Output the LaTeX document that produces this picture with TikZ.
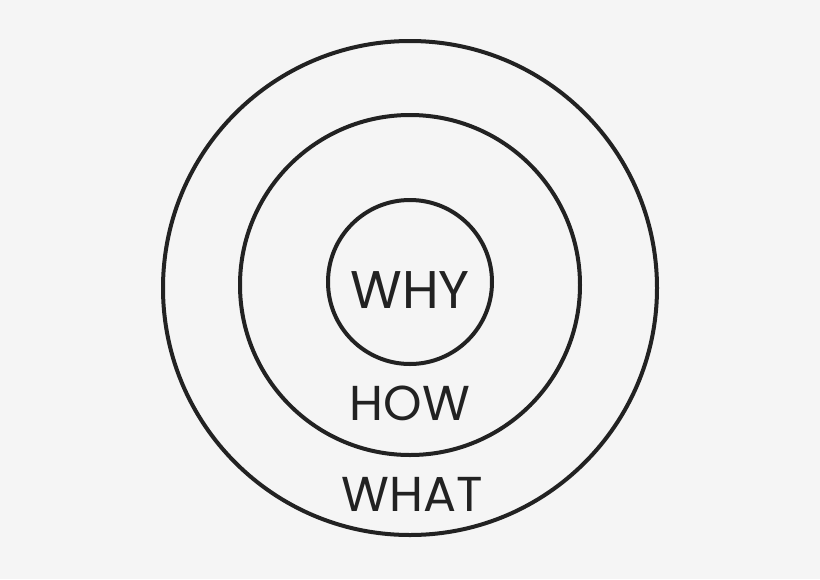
\documentclass[tikz,border=0pt]{standalone}
\usepackage{fontspec}
\setmainfont{Poppins}
\definecolor{bg}{HTML}{F5F5F5}
\definecolor{ink}{HTML}{222222}
\tikzset{ring/.style={draw=ink,line width=4pt},
  lbl/.style={text=ink,inner sep=0pt,anchor=center}}
\begin{document}
\begin{tikzpicture}[x=1pt,y=-1pt]
\fill[bg] (0,0) rectangle (820,579);
\useasboundingbox (0,0) rectangle (820,579);
\node[ring,circle,minimum size=494pt,inner sep=0pt] (outer) at (410,288) {};
\node[ring,circle,minimum size=340pt,inner sep=0pt] (middle) at (410,285) {};
\node[ring,circle,minimum size=164pt,inner sep=0pt] (inner) at (410,282) {};
\node[lbl,font=\fontsize{53}{53}\selectfont] (why) at (410,290) {WHY};
\node[lbl,font=\fontsize{49}{49}\selectfont] (how) at (410,403) {HOW};
\node[lbl,font=\fontsize{49}{49}\selectfont] (what) at (412,494) {WHAT};
\end{tikzpicture}
\end{document}
